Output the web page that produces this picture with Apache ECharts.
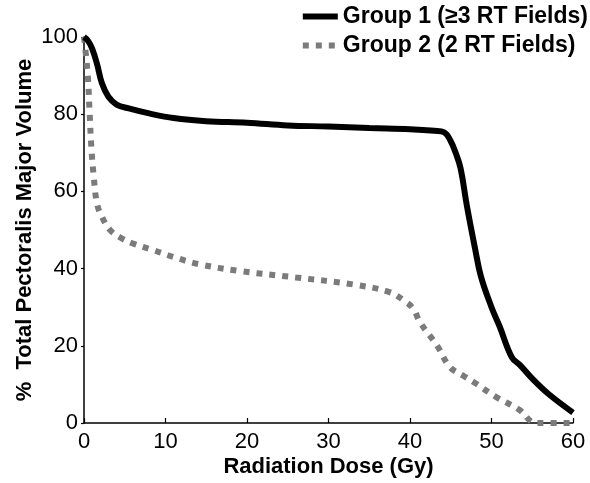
<!DOCTYPE html>
<html>
<head>
<meta charset="utf-8">
<script src="https://cdn.jsdelivr.net/npm/echarts@6/dist/echarts.min.js"></script>
<style>
  html, body { margin: 0; padding: 0; background: #fff; }
  #chart { width: 590px; height: 483px; }
</style>
</head>
<body>
<div id="chart"></div>
<script>
// dose (Gy) vs % volume
const doseG1 = [0, 0.5, 1, 1.6, 2.2, 3, 4, 5.5, 8, 11, 15, 20, 25, 30, 35, 40, 43, 44.2, 45, 45.6, 46.2, 47, 48, 48.7, 50, 51, 52.5, 53.5, 55, 57, 60];
const volG1 = [100, 99, 97, 93, 88, 84.5, 82.5, 81.5, 80.2, 79, 78.2, 77.8, 77.1, 76.8, 76.4, 76.1, 75.7, 75.3, 73, 70, 66, 56, 45, 38, 30, 25, 17, 15, 11.5, 7.5, 2.7];

const doseG2 = [0, 0.3, 0.5, 0.7, 0.9, 1.2, 1.6, 2.2, 3.2, 4.5, 6, 8.5, 11, 14, 19, 26, 33, 37.5, 39.2, 40.4, 41.2, 43.3, 44.9, 46.5, 47.8, 50.6, 53.5, 54.8, 55.5, 60];
const volG2 = [100, 94, 89, 80, 71.5, 63.7, 56.8, 53.4, 50, 48, 46.5, 44.8, 43, 41.2, 39.4, 37.7, 35.9, 33.9, 31.8, 29.6, 26.2, 20.1, 14.5, 12.3, 10.6, 6.7, 3.3, 0.5, 0, 0];

const seriesNames = ["Group 1 (\u22653 RT Fields)", "Group 2 (2 RT Fields)"];
const xTicks = [0, 10, 20, 30, 40, 50, 60];
const yTicks = [0, 20, 40, 60, 80, 100];

const font = "Liberation Sans, Arial, sans-serif";
const zip = (xs, ys) => xs.map((x, i) => [x, ys[i]]);

const chart = echarts.init(document.getElementById("chart"), null, { renderer: "canvas" });

chart.setOption({
    animation: false,
    backgroundColor: "#fff",
    grid: { left: 84, right: 17, top: 37, bottom: 60 },
    legend: {
        data: seriesNames,
        orient: "vertical",
        right: 2,
        top: 5,
        padding: 0,
        itemGap: 6,
        itemWidth: 35,
        itemHeight: 14,
        itemStyle: { opacity: 0 },
        lineStyle: { width: 6 },
        textStyle: { fontFamily: font, fontWeight: "bold", fontSize: 23, color: "#000" },
    },
    xAxis: {
        type: "value",
        min: xTicks[0],
        max: xTicks[xTicks.length - 1],
        interval: 10,
        name: "Radiation Dose (Gy)",
        nameLocation: "middle",
        nameGap: 33,
        nameMoveOverlap: false,
        nameTextStyle: { fontFamily: font, fontWeight: "bold", fontSize: 22, color: "#000" },
        splitLine: { show: false },
        axisLine: { lineStyle: { color: "#000", width: 1.5 } },
        axisTick: { inside: true, length: 5, lineStyle: { color: "#000", width: 1.2 } },
        axisLabel: { fontFamily: font, fontSize: 22, color: "#000", margin: 8 },
    },
    yAxis: {
        type: "value",
        min: yTicks[0],
        max: yTicks[yTicks.length - 1],
        interval: 20,
        name: "%  Total Pectoralis Major Volume",
        nameLocation: "middle",
        nameGap: 48,
        nameMoveOverlap: false,
        nameTextStyle: { fontFamily: font, fontWeight: "bold", fontSize: 22, color: "#000" },
        splitLine: { show: false },
        axisLine: { show: true, lineStyle: { color: "#000", width: 1.5 } },
        axisTick: { show: true, length: 3, lineStyle: { color: "#000", width: 1.2 } },
        axisLabel: { fontFamily: font, fontSize: 22, color: "#000", margin: 6 },
    },
    series: [
        {
            name: seriesNames[0],
            type: "line",
            data: zip(doseG1, volG1),
            symbol: "none",
            smooth: 0.4,
            z: 3,
            lineStyle: { color: "#000", width: 6 },
            itemStyle: { color: "#000" },
        },
        {
            name: seriesNames[1],
            type: "line",
            data: zip(doseG2, volG2),
            symbol: "none",
            smooth: 0.4,
            z: 2,
            lineStyle: { color: "#7b7b7b", width: 6, type: [6, 7], cap: "butt" },
            itemStyle: { color: "#7b7b7b" },
        },
    ],
});
</script>
</body>
</html>
